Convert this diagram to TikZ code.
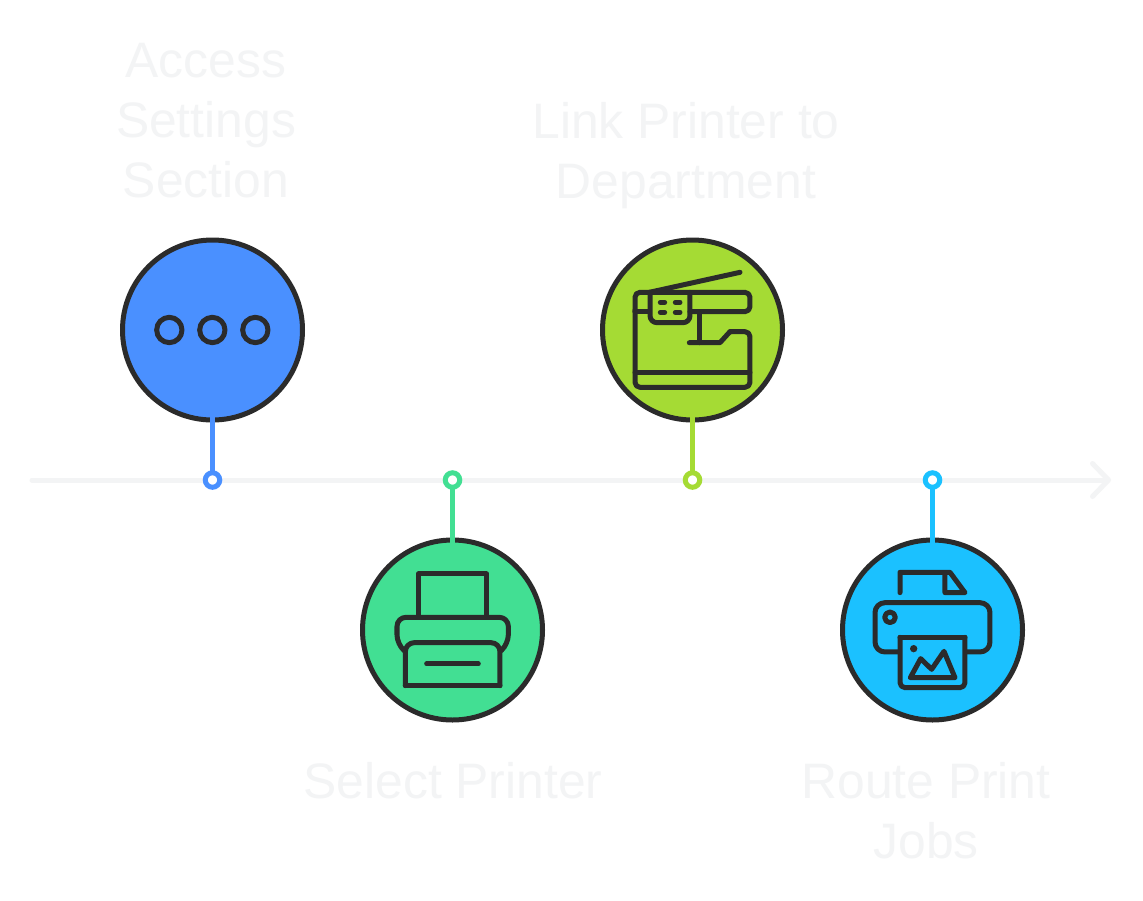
\documentclass[tikz,border=0pt]{standalone}
\usepackage{fontspec}
\setmainfont{Liberation Sans}
\usetikzlibrary{arrows.meta}
\definecolor{ink}{HTML}{2B2B2B}
\definecolor{faint}{HTML}{F3F4F5}
\definecolor{cblue}{HTML}{4A90FF}
\definecolor{cgreen}{HTML}{42DF93}
\definecolor{clime}{HTML}{A5DB34}
\definecolor{ccyan}{HTML}{1BC1FF}
\tikzset{
  disc/.style={circle,draw=ink,line width=5pt,minimum size=180pt,inner sep=0pt,outer sep=0pt,fill=#1},
  pin/.style={circle,draw=#1,line width=5pt,minimum size=14.5pt,inner sep=0pt,outer sep=0pt,fill=white},
  stem/.style={draw=#1,line width=5pt,shorten <=-3pt},
  axisline/.style={draw=faint,line width=5pt,line cap=round,-{Straight Barb[length=16pt,width=33pt,line width=5pt,round]}},
  lbl/.style={text=faint,font=\fontsize{49.8}{60}\selectfont,align=center,inner sep=0pt},
  ic/.style={draw=ink,line width=5pt,line join=round,line cap=round},
  zgrid/.style={x=0.3333pt,y=-0.3333pt}
}
\begin{document}
\begin{tikzpicture}[x=1pt,y=-1pt]
\useasboundingbox (0,0) rectangle (1143,900);
\fill[white] (0,0) rectangle (1143,900);
\coordinate (axA) at (32,480);
\coordinate (axB) at (1111,480);
\draw[axisline] (axA) -- (axB);

\node[disc=cblue] (c1) at (212.5,330) {};
\node[disc=cgreen] (c2) at (452.5,630) {};
\node[disc=clime] (c3) at (692.5,330) {};
\node[disc=ccyan] (c4) at (932.5,630) {};
\node[pin=cblue] (d1) at (212.5,480) {};
\node[pin=cgreen] (d2) at (452.5,480) {};
\node[pin=clime] (d3) at (692.5,480) {};
\node[pin=ccyan] (d4) at (932.5,480) {};
\draw[stem=cblue] (c1.south) -- (d1.north);
\draw[stem=cgreen] (c2.north) -- (d2.south);
\draw[stem=clime] (c3.south) -- (d3.north);
\draw[stem=ccyan] (c4.north) -- (d4.south);

\node[lbl] (t1) at (206,121) {Access\\Settings\\Section};
\node[lbl] (t2) at (453,781) {Select Printer};
\node[lbl] (t3) at (686,156) {Link Printer to\\Department};
\node[lbl] (t4) at (926,811) {Route Print\\Jobs};

% icon 1: three rings
\begin{scope}[shift={(110,230)},zgrid]
\foreach \px in {178,307,436}
  \draw[ic] (\px,300) circle (38);
\end{scope}

% icon 2: printer
\begin{scope}[shift={(350,460)},zgrid]
\draw[ic] (205,470) -- (205,342) -- (410,342) -- (410,470);
\draw[ic,rounded corners=9pt] (165,574) -- (141,552) -- (141,472) -- (475,472) -- (475,552) -- (451,574);
\draw[ic,rounded corners=9pt] (166,677) -- (166,548) -- (450,548) -- (450,677);
\draw[ic] (166,677) -- (450,677);
\draw[ic] (230,612) -- (385,612);
\end{scope}

% icon 3: copier
\begin{scope}[shift={(590,230)},zgrid]
\draw[ic,rounded corners=5pt] (135,245) -- (135,187) -- (480,187) -- (480,245) -- (300,245);
\draw[ic] (135,245) -- (178,245);
\draw[ic,rounded corners=5pt] (135,240) -- (135,472) -- (480,472) -- (480,305) -- (420,305);
\draw[ic] (425,305) -- (420,305) -- (390,338) -- (298,338);
\draw[ic] (330,338) -- (330,247);
\draw[ic] (135,428) -- (480,428);
\draw[ic,rounded corners=7pt] (180,187) -- (180,278) -- (300,278) -- (300,187);
\draw[ic] (178,187) -- (450,127);
\foreach \py in {217,247} {
  \draw[ic] (211,\py) -- (224,\py);
  \draw[ic] (256,\py) -- (270,\py);
}
\end{scope}

% icon 4: photo printer
\begin{scope}[shift={(830,460)},zgrid]
\draw[ic] (210,398) -- (210,337) -- (360,337) -- (405,398) -- (345,398) -- (345,337);
\draw[ic,rounded corners=10pt] (205,576) -- (135,576) -- (135,428) -- (480,428) -- (480,576) -- (410,576);
\draw[ic] (180,472) circle (16);
\draw[ic,rounded corners=5pt] (210,532) -- (210,683) -- (405,683) -- (405,532);
\draw[ic] (210,532) -- (405,532);
\fill[ink] (251,566) circle (11);
\draw[ic] (241,653) -- (272,596) -- (305,628) -- (342,574) -- (375,653) -- cycle;
\end{scope}
\end{tikzpicture}
\end{document}
